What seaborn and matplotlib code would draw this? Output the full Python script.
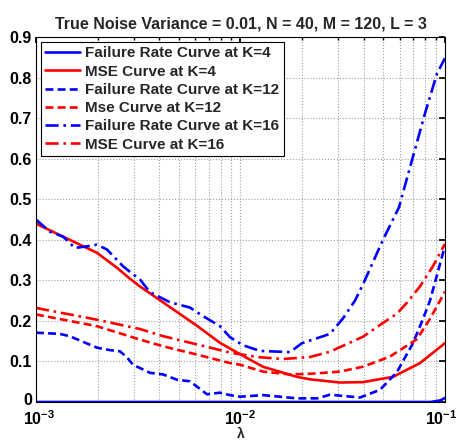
import numpy as np
import pandas as pd
import matplotlib
matplotlib.use("Agg")
import matplotlib.pyplot as plt
import matplotlib.transforms as mtransforms
import seaborn as sns

# ---- data ----
lam_fr4 = [0.001, 0.05, 0.085, 0.095, 0.1]
fr4 = [0.0, 0.0, 0.0, 0.004, 0.01]

lam_mse4 = [0.001, 0.001355, 0.001987, 0.00249, 0.002882, 0.003226, 0.004178, 0.006127,
            0.007939, 0.009945, 0.01288, 0.01889, 0.02187, 0.03066, 0.03972, 0.05569,
            0.07548, 0.1]
mse4 = [0.44, 0.408, 0.368, 0.331, 0.304, 0.285, 0.246, 0.188,
        0.146, 0.118, 0.087, 0.062, 0.056, 0.048, 0.049, 0.062,
        0.096, 0.145]

lam_fr12 = [0.001, 0.00131, 0.001467, 0.001987, 0.0023, 0.002575, 0.002786, 0.00298,
            0.003609, 0.004178, 0.004893, 0.00566, 0.006127, 0.006859, 0.007939, 0.008887,
            0.009945, 0.01288, 0.01889, 0.02374, 0.0274, 0.03841, 0.04811, 0.05826,
            0.06973, 0.0781, 0.08447, 0.1]
fr12 = [0.171, 0.168, 0.162, 0.134, 0.128, 0.125, 0.11, 0.092,
        0.072, 0.068, 0.055, 0.051, 0.038, 0.019, 0.023, 0.017,
        0.013, 0.017, 0.009, 0.009, 0.018, 0.011, 0.03, 0.074,
        0.145, 0.205, 0.25, 0.385]

lam_mse12 = [0.001, 0.001987, 0.003226, 0.004178, 0.006127, 0.008887, 0.009945, 0.01288,
             0.01746, 0.02262, 0.03066, 0.03972, 0.05383, 0.07294, 0.08447, 0.1]
mse12 = [0.216, 0.187, 0.154, 0.1375, 0.117, 0.096, 0.092, 0.075,
         0.068, 0.07, 0.075, 0.087, 0.112, 0.155, 0.205, 0.272]

lam_fr16 = [0.001, 0.00117, 0.001355, 0.00155, 0.001776, 0.001987, 0.002225, 0.002663,
            0.002882, 0.003226, 0.003609, 0.004521, 0.00566, 0.006556, 0.007939, 0.008887,
            0.01029, 0.01245, 0.01746, 0.01998, 0.0274, 0.0318, 0.0363, 0.03972,
            0.04976, 0.05957, 0.06973, 0.07988, 0.0914, 0.1]
fr16 = [0.45, 0.42, 0.408, 0.38, 0.384, 0.388, 0.376, 0.335,
        0.321, 0.302, 0.271, 0.246, 0.233, 0.212, 0.187, 0.16,
        0.14, 0.126, 0.123, 0.145, 0.168, 0.207, 0.25, 0.29,
        0.40, 0.48, 0.605, 0.712, 0.81, 0.848]

lam_mse16 = [0.001, 0.001987, 0.003226, 0.004178, 0.006127, 0.008887, 0.01204, 0.01614,
             0.02187, 0.0274, 0.03972, 0.04976, 0.05826, 0.06518, 0.07548, 0.08738, 0.1]
mse16 = [0.232, 0.203, 0.18, 0.1625, 0.142, 0.122, 0.111, 0.106,
         0.111, 0.124, 0.161, 0.195, 0.218, 0.245, 0.285, 0.335, 0.39]

labels = ["Failure Rate Curve at K=4", "MSE Curve at K=4",
          "Failure Rate Curve at K=12", "Mse Curve at K=12",
          "Failure Rate Curve at K=16", "MSE Curve at K=16"]
title = "True Noise Variance = 0.01, N = 40, M = 120, L = 3"
yticks = [0, 0.1, 0.2, 0.3, 0.4, 0.5, 0.6, 0.7, 0.8, 0.9]
ytick_labels = ["0", "0.1", "0.2", "0.3", "0.4", "0.5", "0.6", "0.7", "0.8", "0.9"]
xticks = [1e-3, 1e-2, 1e-1]
xtick_labels = [r"$\mathbf{10^{-3}}$", r"$\mathbf{10^{-2}}$", r"$\mathbf{10^{-1}}$"]

# ---- plotting ----
sns.set_theme(style="white")
plt.rcParams["font.family"] = ["Liberation Sans", "DejaVu Sans"]
plt.rcParams["mathtext.fontset"] = "custom"
plt.rcParams["mathtext.bf"] = "Liberation Sans:bold"
plt.rcParams["mathtext.rm"] = "Liberation Sans"

fig = plt.figure(figsize=(4.59, 4.42), dpi=100)
ax = fig.add_axes([0.0784, 0.0905, 0.891, 0.8255])

dashdot = (0, (5, 1.8, 1, 1.8))
series = [
    (lam_fr4, fr4, "#0000ff", "-"),
    (lam_mse4, mse4, "#ff0000", "-"),
    (lam_fr12, fr12, "#0000ff", (0, (3, 1.6))),
    (lam_mse12, mse12, "#ff0000", (0, (3, 1.6))),
    (lam_fr16, fr16, "#0000ff", dashdot),
    (lam_mse16, mse16, "#ff0000", dashdot),
]
for (x, y, c, ls), lab in zip(series, labels):
    df = pd.DataFrame({"lam": x, "val": y})
    sns.lineplot(data=df, x="lam", y="val", ax=ax, color=c, linestyle=ls,
                 linewidth=1.9, label=lab, sort=False)

ax.set_xscale("log")
ax.set_xlim(1e-3, 1e-1)
ax.set_ylim(0, 0.9)
ax.set_yticks(yticks)
ax.set_yticklabels(ytick_labels, fontweight="bold", fontsize=11.5)
ax.set_xticks(xticks)
ax.set_xticklabels(xtick_labels, fontsize=11.5)
ax.grid(True, which="both", axis="x", linestyle=":", color="#a0a0a0", linewidth=0.8)
ax.grid(True, which="major", axis="y", linestyle=":", color="#a0a0a0", linewidth=0.8)
ax.tick_params(which="both", direction="in", top=True, right=True, length=4,
               colors="black", pad=3)
ax.tick_params(axis="x", which="major", pad=5)
ax.tick_params(which="minor", length=2.5)
for s in ax.spines.values():
    s.set_color("black")
    s.set_linewidth(0.8)
ax.set_xlabel("λ", fontweight="bold", fontsize=10, labelpad=-0.5)
ax.set_ylabel("")
ax.set_title(title, fontweight="bold", fontsize=11.5, pad=6)

# small nudges so corner labels do not collide or get clipped
def nudge(label, dx_px, dy_px):
    label.set_transform(label.get_transform() +
                        mtransforms.ScaledTranslation(dx_px / 100, dy_px / 100,
                                                      fig.dpi_scale_trans))

nudge(ax.get_xticklabels()[-1], -4, 0)
nudge(ax.get_xticklabels()[0], 3, 0)
nudge(ax.get_yticklabels()[0], 0, 3)

leg = ax.legend(loc="upper left", frameon=True, fancybox=False, framealpha=1,
                edgecolor="black", prop={"weight": "bold", "size": 11},
                handlelength=2.3, handletextpad=0.3, borderaxespad=0.3,
                labelspacing=0.28, borderpad=0.3)
leg.get_frame().set_linewidth(0.8)

fig.savefig("out.png", dpi=100)
